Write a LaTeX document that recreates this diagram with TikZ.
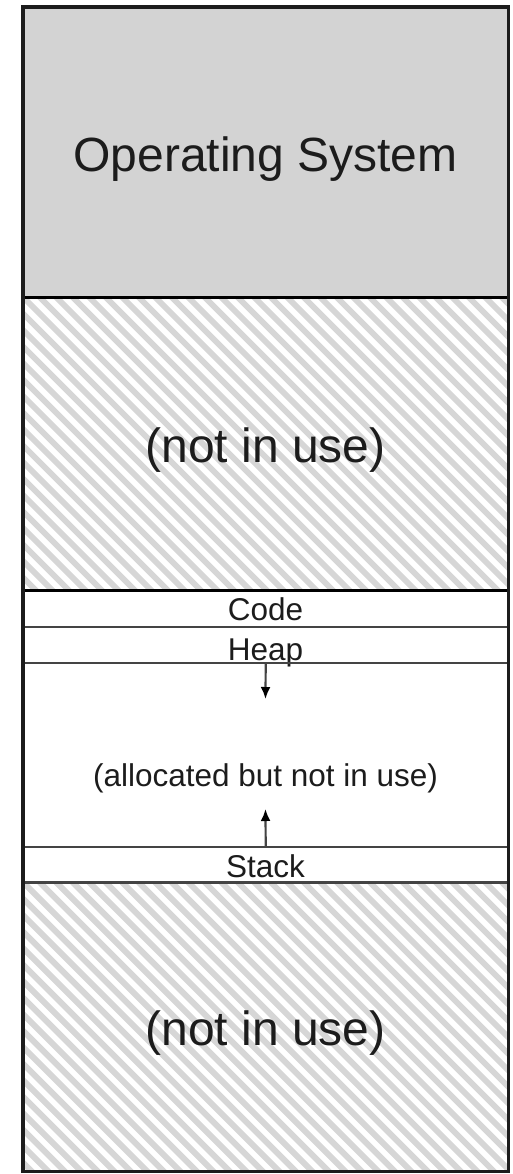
\documentclass[tikz,border=0pt]{standalone}
\usepackage{fontspec}
\setmainfont{Liberation Sans}
\usetikzlibrary{arrows.meta}
\definecolor{osgray}{RGB}{211,211,211}
\definecolor{stripegray}{RGB}{214,214,214}
\definecolor{rulegray}{RGB}{68,68,68}
\definecolor{ink}{RGB}{28,28,28}
\begin{document}
\begin{tikzpicture}[x=1pt,y=-1pt,
  region/.style={rectangle, inner sep=0pt, minimum width=485pt, anchor=north west},
  bigtext/.style={anchor=base, inner sep=0pt, text=ink, font=\fontsize{48}{58}\selectfont},
  smalltext/.style={anchor=base, inner sep=0pt, text=ink, font=\fontsize{31.5}{38}\selectfont},
  hatch/.style={stripegray, line width=6pt},
  strongrule/.style={black, line width=3pt},
  thinrule/.style={rulegray, line width=2pt},
  growarrow/.style={rulegray, line width=2.2pt, -{Latex[length=12pt,width=10pt,color=black]}}]
\useasboundingbox (0,0) rectangle (513,1174);

% memory regions, top to bottom
\node[region, minimum height=290pt, fill=osgray] (os) at (23,7) {};
\node[region, minimum height=293pt] (free1) at (23,297) {};
\node[region, minimum height=37pt] (code) at (23,590) {};
\node[region, minimum height=36pt] (heap) at (23,627) {};
\node[region, minimum height=184pt] (gap) at (23,663) {};
\node[region, minimum height=35pt] (stack) at (23,847) {};
\node[region, minimum height=289pt] (free2) at (23,882) {};

% diagonal hatching of the unused areas
\begin{scope}
  \clip (free1.north west) rectangle (free1.south east);
  \foreach \s in {-330,-313.5,...,500}
    \draw[hatch] ([xshift=\s pt]free1.north west) -- ++(330,330);
\end{scope}
\begin{scope}
  \clip (free2.north west) rectangle (free2.south east);
  \foreach \s in {-330,-313.5,...,500}
    \draw[hatch] ([xshift=\s pt]free2.north west) -- ++(330,330);
\end{scope}

% labels
\node[bigtext] (oslabel) at (265.5,172) {Operating System};
\node[bigtext] (free1label) at (265.5,462) {(not in use)};
\node[smalltext] (codelabel) at (265.5,620) {Code};
\node[smalltext] (heaplabel) at (265.5,660) {Heap};
\node[smalltext] (gaplabel) at (265.5,786) {(allocated but not in use)};
\node[smalltext] (stacklabel) at (265.5,877) {Stack};
\node[bigtext] (free2label) at (265.5,1045) {(not in use)};

% boundaries between regions
\draw[strongrule] (os.south west) -- (os.south east);
\draw[strongrule] (free1.south west) -- (free1.south east);
\draw[thinrule] (code.south west) -- (code.south east);
\draw[thinrule] (heap.south west) -- (heap.south east);
\draw[thinrule] (gap.south west) -- (gap.south east);
\draw[thinrule, line width=2.5pt] (stack.south west) -- (stack.south east);

% growth directions of heap and stack
\coordinate (heaptip) at (265.5,699);
\coordinate (stacktip) at (265.5,809);
\draw[growarrow] (heap.south) -- (heaptip);
\draw[growarrow] (stack.north) -- (stacktip);

% outer frame
\draw[ink, line width=3.5pt] (os.north west) rectangle (free2.south east);
\end{tikzpicture}
\end{document}
